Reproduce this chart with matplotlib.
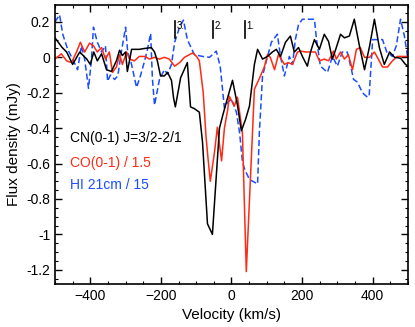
import matplotlib
matplotlib.use("Agg")
import matplotlib.pyplot as plt
from matplotlib.ticker import MultipleLocator

plt.rcParams['font.family'] = ['Liberation Sans', 'DejaVu Sans']

# CN(0-1) J=3/2-2/1
cn_v = [-500, -480, -467, -450, -430, -410, -400, -390, -380, -368, -354, -340, -326, -317,
        -309, -300, -295, -289, -283, -261, -246, -227, -218, -210, -201, -190, -181, -170,
        -164, -159, -144, -125, -116, -105, -91, -82, -68, -54, -43, -34, -25, -14, 3, 17,
        28, 40, 51, 65, 74, 88, 102, 116, 127, 139, 153, 167, 178, 190, 201, 215, 224, 235,
        249, 263, 275, 286, 297, 309, 320, 334, 348, 363, 377, 391, 405, 419, 433, 448, 462,
        479, 493, 500]
cn_f = [0.11, 0.056, 0.03, -0.04, 0.03, -0.01, -0.04, 0.03, -0.02, 0.02, -0.07, -0.08, -0.02,
        0.04, 0.01, 0.03, -0.08, -0.02, 0.045, 0.045, 0.05, 0.055, 0.03, -0.02, -0.105, -0.105,
        -0.085, -0.13, -0.23, -0.28, -0.115, -0.03, -0.28, -0.29, -0.31, -0.48, -0.94, -1.0,
        -0.67, -0.4, -0.33, -0.25, -0.13, -0.27, -0.415, -0.35, -0.275, -0.04, 0.045, -0.01,
        0.005, 0.03, 0.045, 0.005, 0.085, 0.12, 0.03, 0.055, 0.005, -0.05, 0.03, 0.1, 0.045,
        0.13, 0.09, -0.01, 0.055, 0.13, 0.11, 0.12, 0.215, 0.06, -0.07, 0.06, 0.215, 0.055,
        -0.04, 0.03, 0.0, -0.005, -0.04, -0.05]

# CO(0-1) / 1.5
co_v = [-500, -482, -467, -453, -439, -428, -416, -402, -391, -380, -368, -357, -346, -337,
        -326, -317, -309, -297, -289, -275, -261, -246, -232, -218, -204, -190, -176, -161,
        -147, -133, -119, -110, -99, -91, -80, -72, -66, -60, -48, -40, -28, -20, -11, -6, 8,
        17, 31, 42, 65, 79, 93, 102, 110, 122, 133, 141, 150, 161, 173, 187, 195, 210, 224,
        238, 249, 263, 275, 289, 297, 309, 320, 331, 343, 354, 365, 377, 391, 405, 416, 428,
        442, 456, 470, 484, 500]
co_f = [-0.01, 0.02, -0.02, -0.03, 0.03, 0.085, 0.03, 0.08, 0.065, 0.03, 0.055, -0.01, 0.03,
        -0.085, -0.055, 0.015, -0.04, 0.03, -0.01, -0.02, 0.005, 0.005, -0.01, 0.0, -0.01, 0.0,
        -0.01, -0.05, -0.03, 0.0, 0.015, 0.025, 0.005, -0.02, -0.2, -0.45, -0.58, -0.7, -0.535,
        -0.395, -0.585, -0.4, -0.3, -0.22, -0.275, -0.225, -0.425, -1.21, -0.18, -0.12, -0.055,
        0.015, 0.0, -0.07, 0.015, -0.01, -0.04, -0.03, -0.04, 0.03, 0.035, 0.03, 0.03, 0.03,
        -0.02, -0.01, -0.02, 0.035, -0.01, 0.03, -0.01, 0.015, -0.07, 0.045, 0.055, 0.0, 0.0,
        0.03, -0.01, -0.055, -0.055, -0.02, 0.005, 0.005, 0.005]

# HI 21cm / 15
hi_v = [-500, -487, -478, -464, -450, -436, -425, -416, -405, -397, -391, -380, -368, -357,
        -351, -343, -331, -322, -312, -300, -294, -283, -269, -258, -246, -238, -229, -224,
        -218, -204, -190, -181, -170, -161, -147, -136, -125, -105, -82, -62, -43, -32, -20,
        -11, 0, 14, 23, 31, 37, 51, 74, 79, 88, 99, 113, 130, 139, 150, 164, 173, 181, 190,
        201, 235, 241, 252, 272, 286, 300, 314, 328, 340, 346, 357, 371, 385, 390, 400, 416,
        428, 440, 456, 467, 479, 490, 500]
hi_f = [0.2, 0.24, 0.13, 0.045, -0.01, -0.07, 0.065, -0.01, -0.175, -0.02, 0.17, 0.085, 0.03,
        0.065, -0.135, -0.1, -0.125, -0.105, 0.03, 0.17, 0.03, -0.04, -0.17, -0.105, -0.02,
        0.045, 0.135, -0.12, -0.27, -0.125, -0.07, -0.095, -0.04, 0.085, 0.17, 0.21, 0.1, 0.015,
        0.005, 0.0, 0.035, -0.05, -0.285, -0.255, -0.235, -0.31, -0.425, -0.59, -0.63, -0.69,
        -0.715, -0.425, -0.105, -0.02, 0.085, 0.13, 0.005, -0.105, 0.005, -0.04, 0.1, 0.185,
        0.215, 0.215, 0.1, -0.05, -0.085, 0.005, -0.05, 0.03, 0.03, -0.07, -0.125, -0.14, -0.2,
        -0.225, -0.22, 0.1, 0.1, 0.1, 0.03, 0.005, 0.065, 0.215, 0.12, -0.01]

comp_v = [37, -52, -159]
comp_labels = ['1.', '2.', '3.']

legend_texts = ['CN(0-1) J=3/2-2/1', 'CO(0-1) / 1.5', 'HI 21cm / 15']
colors = ['black', '#ff2a14', '#1a4dff']

fig = plt.figure(figsize=(4.15, 3.27), dpi=100)
ax = fig.add_axes([0.1325, 0.1315, 0.8505, 0.853])

ax.plot(hi_v, hi_f, color=colors[2], lw=1.1, ls=(0, (4, 2)))
ax.plot(co_v, co_f, color=colors[1], lw=1.1)
ax.plot(cn_v, cn_f, color=colors[0], lw=1.1)

for v, lab in zip(comp_v, comp_labels):
    ax.plot([v, v], [0.107, 0.203], color='black', lw=1.2)
    ax.text(v + 4, 0.205, lab, fontsize=7, va='top', ha='left')

ypos = [0.523, 0.434, 0.355]
for t, c, y in zip(legend_texts, colors, ypos):
    ax.text(0.042, y, t, color=c, fontsize=10, transform=ax.transAxes, va='center', ha='left')

ax.set_xlim(-500, 500)
ax.set_ylim(-1.28, 0.295)
ax.xaxis.set_major_locator(MultipleLocator(200))
ax.xaxis.set_minor_locator(MultipleLocator(50))
ax.yaxis.set_major_locator(MultipleLocator(0.2))
ax.yaxis.set_minor_locator(MultipleLocator(0.05))
ax.tick_params(which='both', direction='in', top=True, right=True, labelsize=10)
ax.tick_params(which='major', length=5, width=1)
ax.tick_params(which='minor', length=2.5, width=0.8)
for s in ax.spines.values():
    s.set_linewidth(1.2)

def yfmt(x, pos):
    if abs(x) < 1e-9:
        return '0'
    s = ('%.1f' % x)
    if s.endswith('.0'):
        s = s[:-2]
    return s
ax.yaxis.set_major_formatter(matplotlib.ticker.FuncFormatter(yfmt))

ax.set_xlabel('Velocity (km/s)', fontsize=11, labelpad=4)
ax.set_ylabel('Flux density (mJy)', fontsize=11, labelpad=4)

fig.savefig('out.png', dpi=100)
